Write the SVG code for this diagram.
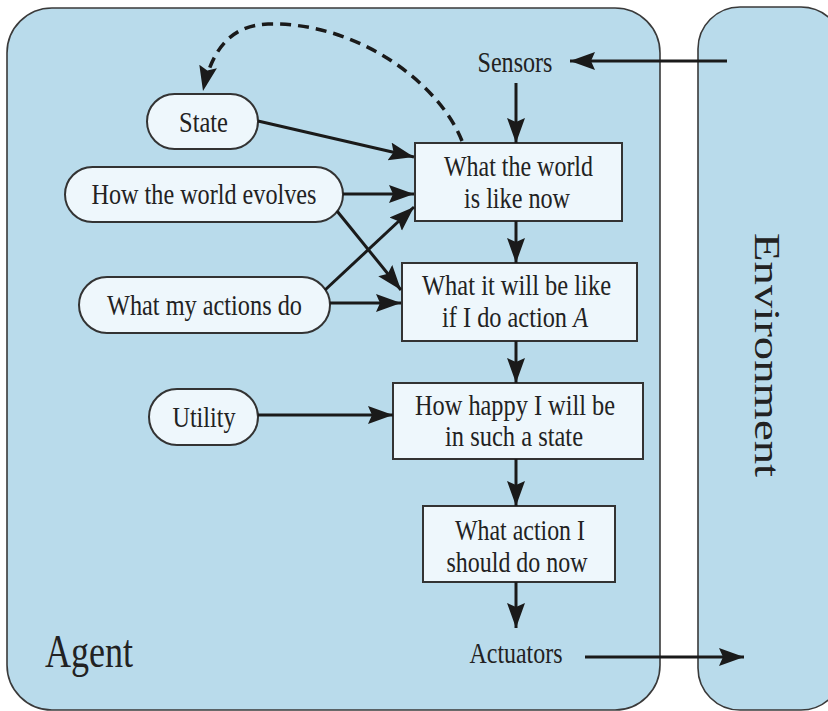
<svg xmlns="http://www.w3.org/2000/svg" width="828" height="711" viewBox="0 0 828 711">
<defs>
<marker id="ah" markerUnits="userSpaceOnUse" markerWidth="28" markerHeight="20" refX="25" refY="9" orient="auto">
<path d="M0,0 L25,9 L0,18 L4,9 Z" fill="#1a1a1a"/>
</marker>
<style>
.frame{fill:#b9dbeb;stroke:#3a3a3a;stroke-width:1.6}
.pill{fill:#eef7fc;stroke:#333;stroke-width:2}
.box{fill:#eef7fc;stroke:#333;stroke-width:2}
.t{font-family:"Liberation Serif","Times New Roman",serif;font-size:29px;fill:#222;text-anchor:middle}
.c{fill:none;stroke:#1a1a1a;stroke-width:3;marker-end:url(#ah)}
.d{fill:none;stroke:#1a1a1a;stroke-width:3.5;stroke-dasharray:11 7;marker-end:url(#ah)}
</style>
</defs>
<rect width="828" height="711" fill="#ffffff"/>
<g id="agent">
<rect class="frame" x="7" y="8" width="653" height="702" rx="45" ry="45"/>
<text class="t" x="89" y="667" style="font-size:46px" textLength="88" lengthAdjust="spacingAndGlyphs">Agent</text>
</g>
<g id="environment">
<rect class="frame" x="698" y="7" width="145" height="703" rx="42" ry="42"/>
<text class="t" transform="translate(755,355) rotate(90)" x="0" y="0" style="font-size:35px" textLength="244" lengthAdjust="spacingAndGlyphs">Environment</text>
</g>
<g id="sensors"><text class="t" x="515" y="72" textLength="75" lengthAdjust="spacingAndGlyphs">Sensors</text></g>
<g id="actuators"><text class="t" x="516" y="663" textLength="93" lengthAdjust="spacingAndGlyphs">Actuators</text></g>
<g id="state">
<rect class="pill" x="147" y="94" width="111" height="55" rx="27.5"/>
<text class="t" x="203.5" y="132" textLength="49" lengthAdjust="spacingAndGlyphs">State</text>
</g>
<g id="evolves">
<rect class="pill" x="65" y="167" width="278" height="55" rx="27.5"/>
<text class="t" x="204" y="204" textLength="225" lengthAdjust="spacingAndGlyphs">How the world evolves</text>
</g>
<g id="actions">
<rect class="pill" x="79" y="277" width="251" height="56" rx="28"/>
<text class="t" x="204.5" y="315" textLength="195" lengthAdjust="spacingAndGlyphs">What my actions do</text>
</g>
<g id="utility">
<rect class="pill" x="149" y="389" width="109" height="56" rx="28"/>
<text class="t" x="204" y="427" textLength="63" lengthAdjust="spacingAndGlyphs">Utility</text>
</g>
<g id="world-now">
<rect class="box" x="415" y="143" width="207" height="78"/>
<text class="t" x="518.5" y="176" textLength="149" lengthAdjust="spacingAndGlyphs">What the world</text>
<text class="t" x="517" y="208" textLength="106" lengthAdjust="spacingAndGlyphs">is like now</text>
</g>
<g id="will-be">
<rect class="box" x="402" y="263" width="235" height="78"/>
<text class="t" x="516.5" y="295" textLength="189" lengthAdjust="spacingAndGlyphs">What it will be like</text>
<text class="t" transform="translate(515,327) scale(0.84,1)" x="0" y="0">if I do action <tspan font-style="italic">A</tspan></text>
</g>
<g id="happy">
<rect class="box" x="393" y="383" width="250" height="76"/>
<text class="t" x="515" y="415" textLength="200" lengthAdjust="spacingAndGlyphs">How happy I will be</text>
<text class="t" x="514" y="446" textLength="138" lengthAdjust="spacingAndGlyphs">in such a state</text>
</g>
<g id="action-now">
<rect class="box" x="423" y="506" width="192" height="76"/>
<text class="t" x="520" y="540" textLength="130" lengthAdjust="spacingAndGlyphs">What action I</text>
<text class="t" x="517" y="572" textLength="141" lengthAdjust="spacingAndGlyphs">should do now</text>
</g>
<g id="connectors">
<line class="c" x1="727" y1="61" x2="570" y2="61"/>
<line class="c" x1="516" y1="83" x2="516" y2="143"/>
<line class="c" x1="516" y1="221" x2="516" y2="263"/>
<line class="c" x1="516" y1="341" x2="516" y2="383"/>
<line class="c" x1="516" y1="459" x2="516" y2="506"/>
<line class="c" x1="516" y1="582" x2="516" y2="628"/>
<line class="c" x1="585" y1="657" x2="744" y2="657"/>
<line class="c" x1="258" y1="121" x2="414" y2="157"/>
<line class="c" x1="343" y1="194" x2="414" y2="194"/>
<line class="c" x1="337" y1="211" x2="401" y2="290"/>
<line class="c" x1="325" y1="290" x2="414" y2="207"/>
<line class="c" x1="330" y1="303" x2="401" y2="303"/>
<line class="c" x1="258" y1="415" x2="393" y2="415"/>
<path class="d" d="M462,141 C440,85 360,22 268,24 C232,25 212,48 203,91"/>
</g>
</svg>
